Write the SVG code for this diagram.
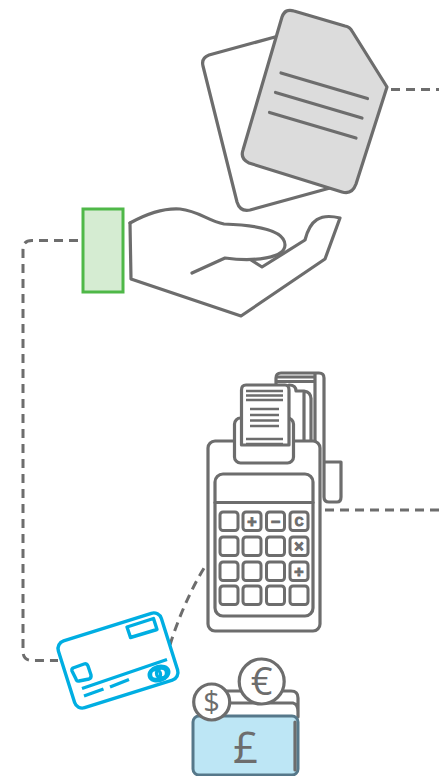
<svg xmlns="http://www.w3.org/2000/svg" width="439" height="776" viewBox="0 0 439 776">
<style>
.g{fill:none;stroke:#6d6d6d;stroke-width:3.200;stroke-linecap:round;stroke-linejoin:round}
.w{fill:#fff}
.t{stroke-width:3}
.th{stroke-width:2.600;stroke-linecap:butt}
.b{fill:none;stroke:#00aee2;stroke-width:3.400;stroke-linecap:butt;stroke-linejoin:round}
.c{fill:none;stroke:#6d6d6d;stroke-width:3;stroke-dasharray:9 6}
.k{font-family:"Liberation Sans",Arial,sans-serif;font-weight:bold;font-size:16px;fill:#6d6d6d;stroke:#6d6d6d;stroke-width:1;text-anchor:middle}
.s{font-family:"Open Sans","Liberation Sans",Arial,sans-serif;fill:#6d6d6d;text-anchor:middle}
</style>
<g id="connectors">
<path class="c" d="M388 89.500H439" stroke-dashoffset="12"/>
<path class="c" d="M78 240.500H32Q23 240.500 23 249V651Q23 660.500 32 660.500H58"/>
<path class="c" d="M325 510H439"/>
<path class="c" d="M170 645C177 622 190 590 206 565"/>
</g>
<g id="documents">
<path class="g w" d="M275 37L209 55Q201 58 203 66L237 202Q240 212 250 210L330 188"/>
<path class="g" style="fill:#dcdcdc" d="M282 17Q285 8 294 11L345 26Q350 27 352 31L387 87L356 184Q352 195 342 192L249 163Q240 159 243 150Z"/>
<path class="g" d="M281 73L367.500 98.500M275.500 92.500L362 118M269.500 112.500L356 138"/>
</g>
<g id="hand">
<rect x="83" y="209" width="40" height="83" fill="#d5ecd2" stroke="#4fb848" stroke-width="3"/>
<path class="g" d="M130 223C148 213 165 208 180 209C199 211 208 221 224 224C255 225 285 230 285 245C285 258 255 262 225 258L192 273"/>
<path class="g" d="M130 223L131 279L241 316L325 259L340 218C320 213 310 220 305 240L262 267L251 260"/>
</g>
<g id="terminal">
<path class="g" d="M276 385V378Q276 373 281 373H319Q324 373 324 378V497Q324 502 329 502H337Q341 502 341 497V462H324"/>
<path class="g" d="M315 374V441M304 393V441M311 398V441M277 377H315M277 381.500H315M289 385Q296 385 296 391H304Q311 392 311 399"/>
<rect class="g w" x="208" y="441" width="112" height="190" rx="7"/>
<rect class="g" x="215" y="474" width="98" height="142" rx="8"/>
<path class="g" d="M215 502.500H313"/>
<rect class="g w" x="234.500" y="418" width="59" height="45" rx="6"/>
<path class="g w" d="M241.500 445V390Q241.500 385 246 385H285Q289 385 289 390V445Z"/>
<path class="g th" d="M246 391H283M246 395.500H283M246 400H283M250 409H279M250 415H279M250 420.500H279M250 426H279M246 439H283M246 444H283"/>
<g class="g t">
<rect x="220" y="512" width="18" height="18.500" rx="3"/><rect x="243" y="512" width="18" height="18.500" rx="3"/><rect x="266.500" y="512" width="18" height="18.500" rx="3"/><rect x="290" y="512" width="18" height="18.500" rx="3"/>
<rect x="220" y="537" width="18" height="18.500" rx="3"/><rect x="243" y="537" width="18" height="18.500" rx="3"/><rect x="266.500" y="537" width="18" height="18.500" rx="3"/><rect x="290" y="537" width="18" height="18.500" rx="3"/>
<rect x="220" y="562" width="18" height="18.500" rx="3"/><rect x="243" y="562" width="18" height="18.500" rx="3"/><rect x="266.500" y="562" width="18" height="18.500" rx="3"/><rect x="290" y="562" width="18" height="18.500" rx="3"/>
<rect x="220" y="586" width="18" height="18.500" rx="3"/><rect x="243" y="586" width="18" height="18.500" rx="3"/><rect x="266.500" y="586" width="18" height="18.500" rx="3"/><rect x="290" y="586" width="18" height="18.500" rx="3"/>
</g>
<text class="k" x="252" y="527">+</text>
<text class="k" x="275.500" y="527">−</text>
<text class="k" x="299" y="526" style="font-size:12px">C</text>
<text class="k" x="299" y="552">×</text>
<text class="k" x="299" y="577">÷</text>
</g>
<g id="card">
<rect class="b" x="-54" y="-35" width="108" height="70" rx="8" transform="translate(118 660.500) rotate(-17.500)" style="fill:#fff"/>
<path class="b" d="M127 627L153.500 618.500L157 629.500L130.500 637.500Z"/>
<path class="b" d="M73 668L84 664Q87 663 88 666L91 675Q91.500 678 89 679L79 681Q76.500 681.500 76 679L72 671Q71.500 669 73 668Z"/>
<path class="b" d="M82 688.500L167 659.500M84 696L103.500 689M110 687L129 679.500"/>
<ellipse class="b" cx="159" cy="673.500" rx="10" ry="7" transform="rotate(-17 159 673.500)"/>
<circle class="b" cx="155.500" cy="674.500" r="5"/>
<circle class="b" cx="161.500" cy="673" r="5"/>
</g>
<g id="money">
<path class="g" d="M226 691H291Q298 691 298 698V717M230 703H293Q298 704 298 712"/>
<rect x="193" y="716" width="105" height="59" rx="6" fill="#bde6f5" stroke="#56788a" stroke-width="3"/>
<path class="g" d="M295 722V770"/>
<circle class="g w" cx="261.700" cy="681.500" r="22.500"/>
<circle class="g w" cx="211.700" cy="702" r="18"/>
<text class="s" x="261.500" y="695" style="font-size:38px">€</text>
<text class="s" x="211.500" y="712" style="font-size:29px">$</text>
<text class="s" x="245.500" y="763" style="font-size:44px">£</text>
</g>
</svg>
